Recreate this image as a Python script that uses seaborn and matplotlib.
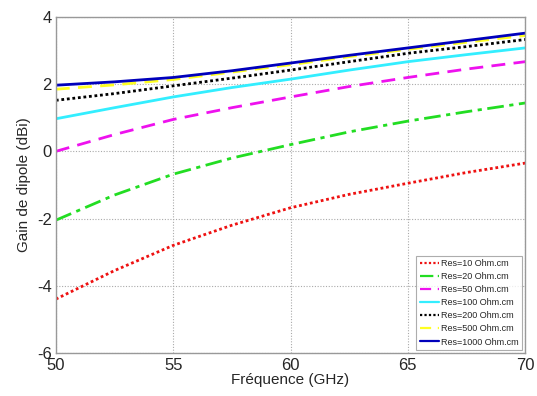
import matplotlib
matplotlib.use("Agg")
import matplotlib.pyplot as plt
import seaborn as sns
import pandas as pd

freq = [50, 52.5, 55, 57.5, 60, 62.5, 65, 67.5, 70]
res10 = [-4.4, -3.55, -2.8, -2.2, -1.68, -1.28, -0.95, -0.63, -0.35]
res20 = [-2.05, -1.3, -0.68, -0.2, 0.2, 0.58, 0.9, 1.18, 1.44]
res50 = [0.0, 0.5, 0.95, 1.3, 1.62, 1.93, 2.2, 2.45, 2.67]
res100 = [0.97, 1.3, 1.62, 1.9, 2.15, 2.42, 2.67, 2.88, 3.08]
res200 = [1.52, 1.72, 1.95, 2.18, 2.42, 2.67, 2.92, 3.12, 3.33]
res500 = [1.85, 1.98, 2.14, 2.36, 2.58, 2.82, 3.04, 3.25, 3.45]
res1000 = [1.97, 2.07, 2.2, 2.4, 2.63, 2.86, 3.08, 3.3, 3.52]

labels = ["Res=10 Ohm.cm", "Res=20 Ohm.cm", "Res=50 Ohm.cm", "Res=100 Ohm.cm",
          "Res=200 Ohm.cm", "Res=500 Ohm.cm", "Res=1000 Ohm.cm"]
series = [res10, res20, res50, res100, res200, res500, res1000]
colors = ["#ee1111", "#22dd22", "#ee11ee", "#33eeff", "#000000", "#ffff22", "#0000bb"]
styles = [(0, (1, 1)), (0, (6, 2, 1.5, 2)), (0, (5, 3)), "-", (0, (1, 1)), (0, (5, 3)), "-"]

sns.set_style("white")
plt.rcParams['font.family'] = ['Liberation Sans', 'DejaVu Sans']
plt.rcParams['axes.unicode_minus'] = False

fig = plt.figure(figsize=(5.37, 3.96), dpi=100)
ax = fig.add_axes([0.104, 0.109, 0.874, 0.848])

for lab, vals, c, ls in zip(labels, series, colors, styles):
    df = pd.DataFrame({"f": freq, "g": vals})
    sns.lineplot(data=df, x="f", y="g", ax=ax, color=c, linestyle=ls,
                 linewidth=2.0, label=lab)

ax.set_xlim(50, 70)
ax.set_ylim(-6, 4)
ax.set_xticks([50, 55, 60, 65, 70])
ax.set_yticks([-6, -4, -2, 0, 2, 4])
ax.grid(True, color="#aaaaaa", linestyle=(0, (1, 1.5)), linewidth=0.8)
for s in ax.spines.values():
    s.set_color("#999999")
    s.set_linewidth(1.0)
ax.tick_params(axis="both", labelsize=12, direction="in", length=3, color="#999999")
ax.tick_params(axis="x", pad=4)
ax.tick_params(axis="y", pad=3)
ax.set_xlabel("Fréquence (GHz)", fontsize=11, labelpad=0)
ax.set_ylabel("Gain de dipole (dBi)", fontsize=11, labelpad=4)

leg = ax.legend(loc="lower right", fontsize=6.5, handlelength=2.2, handletextpad=0.2,
                labelspacing=0.45, borderpad=0.4, frameon=True, fancybox=False,
                borderaxespad=0.3)
leg.get_frame().set_edgecolor("#999999")
leg.get_frame().set_linewidth(0.8)
for h in leg.get_lines():
    h.set_linewidth(1.6)

fig.savefig("out.png", dpi=100)
